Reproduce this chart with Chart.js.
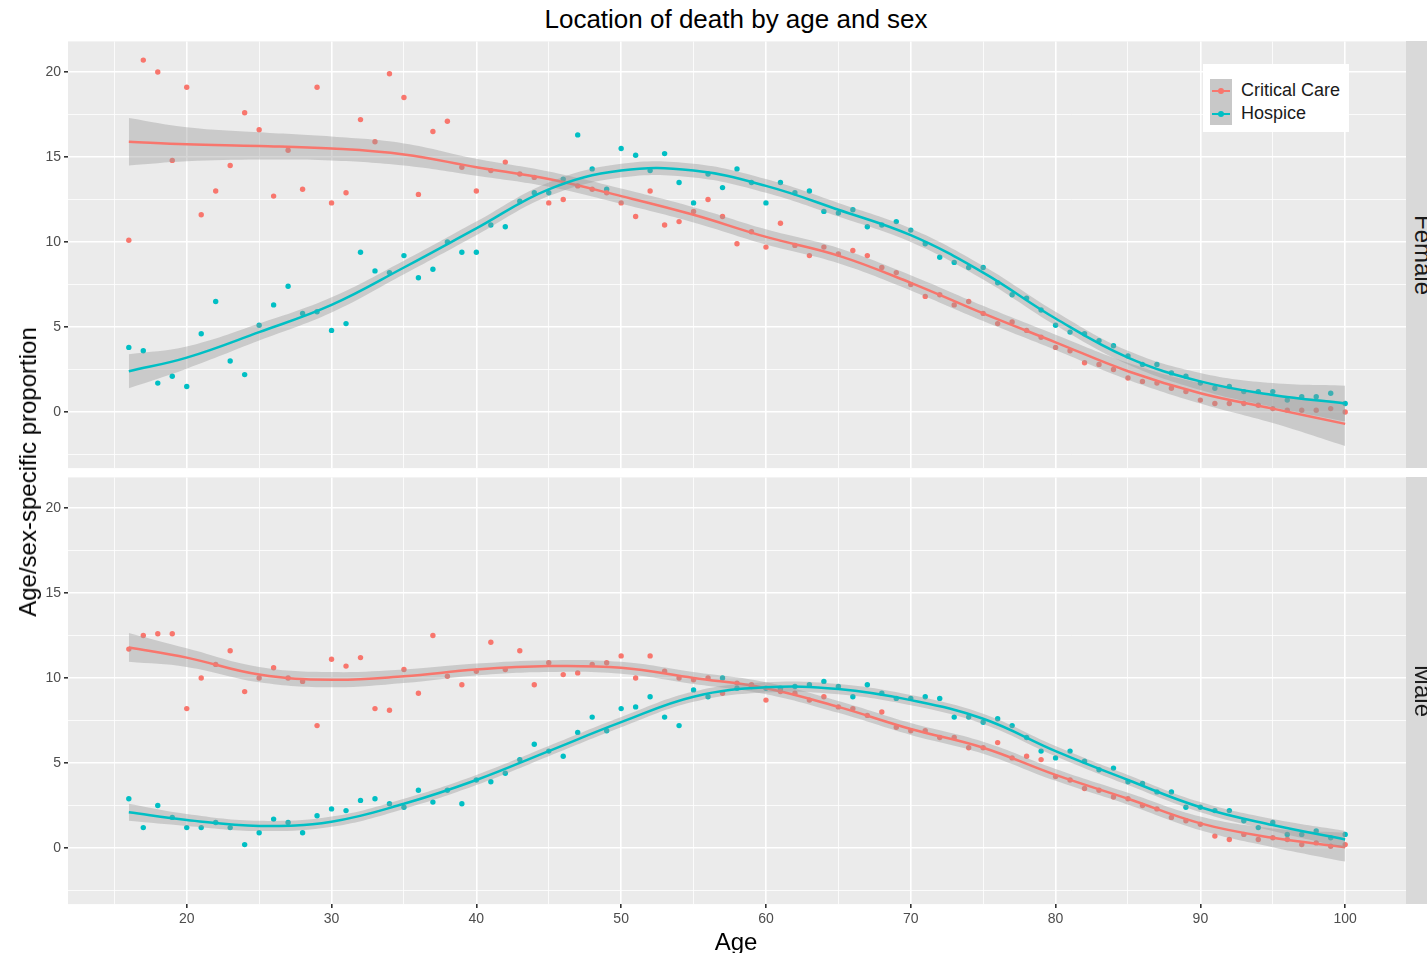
<!DOCTYPE html>
<html>
<head>
<meta charset="utf-8">
<script src="https://cdn.jsdelivr.net/npm/chart.js@4.4.0/dist/chart.umd.min.js"></script>
<style>
  body { margin: 0; width: 1427px; height: 953px; overflow: hidden; background: #fff; position: relative;
         font-family: "Liberation Sans", Arial, sans-serif; }
  canvas { position: absolute; left: 0; }
  .txt { position: absolute; white-space: nowrap; color: #000; }
  .strip { position: absolute; left: 1406px; width: 34px; background: #d9d9d9; overflow: hidden; }
  .strip span { position: absolute; left: 50%; top: 50%; transform: translate(-50%, -50%) rotate(90deg);
                font-size: 24px; color: #1a1a1a; white-space: nowrap; }
  #legend { position: absolute; left: 1203px; top: 64px; width: 146px; height: 68px; background: #fff; }
  .key { position: absolute; left: 7px; width: 22px; height: 23px; background: #c8c8c8; }
  .key i { position: absolute; left: 2px; top: 10.5px; width: 18px; height: 2px; }
  .key b { position: absolute; left: 8px; top: 8.5px; width: 6px; height: 6px; border-radius: 50%; }
  .lab { position: absolute; left: 38px; font-size: 18px; color: #1a1a1a; line-height: 23px; }
</style>
</head>
<body>
<div class="txt" style="left:736px;top:19px;transform:translate(-50%,-50%);font-size:26px;">Location of death by age and sex</div>
<canvas id="female" width="1410" height="450" style="top:30px"></canvas>
<canvas id="male" width="1410" height="488" style="top:465px"></canvas>
<div class="strip" style="top:41px;height:427px"><span>Female</span></div>
<div class="strip" style="top:477px;height:427px"><span>Male</span></div>
<div class="txt" style="left:28px;top:472px;transform:translate(-50%,-50%) rotate(-90deg);font-size:24px;">Age/sex-specific proportion</div>
<div class="txt" style="left:736px;top:942px;transform:translate(-50%,-50%);font-size:24px;">Age</div>
<div id="legend">
  <div class="key" style="top:15px"><i style="background:#F8766D"></i><b style="background:#F8766D"></b></div>
  <div class="key" style="top:38px"><i style="background:#00BFC4"></i><b style="background:#00BFC4"></b></div>
  <div class="lab" style="top:15px">Critical Care</div>
  <div class="lab" style="top:38px">Hospice</div>
</div>
<script>
/*==========================================================

DATOS

==========================================================*/

var ages = [16, 17, 18, 19, 20, 21, 22, 23, 24, 25, 26, 27, 28, 29, 30, 31, 32, 33, 34, 35, 36, 37, 38, 39,
  40, 41, 42, 43, 44, 45, 46, 47, 48, 49, 50, 51, 52, 53, 54, 55, 56, 57, 58, 59, 60, 61, 62, 63, 64, 65,
  66, 67, 68, 69, 70, 71, 72, 73, 74, 75, 76, 77, 78, 79, 80, 81, 82, 83, 84, 85, 86, 87, 88, 89, 90, 91,
  92, 93, 94, 95, 96, 97, 98, 99, 100];

// observed proportions, one value per age
var femaleCritical = [10.1, 20.7, 20.0, 14.8, 19.1, 11.6, 13.0, 14.5, 17.6, 16.6, 12.7, 15.4, 13.1, 19.1,
  12.3, 12.9, 17.2, 15.9, 19.9, 18.5, 12.8, 16.5, 17.1, 14.4, 13.0, 14.2, 14.7, 14.0, 13.8, 12.3, 12.5,
  13.3, 13.1, 12.9, 12.3, 11.5, 13.0, 11.0, 11.2, 11.8, 12.5, 11.5, 9.9, 10.6, 9.7, 11.1, 9.8, 9.2, 9.7,
  9.3, 9.5, 9.2, 8.5, 8.2, 7.5, 6.8, 6.9, 6.3, 6.5, 5.8, 5.2, 5.3, 4.8, 4.4, 3.8, 3.6, 2.9, 2.8, 2.5,
  2.0, 1.8, 1.7, 1.4, 1.2, 0.7, 0.5, 0.5, 0.5, 0.4, 0.2, 0.1, 0.1, 0.1, 0.2, 0.0];
var femaleHospice = [3.8, 3.6, 1.7, 2.1, 1.5, 4.6, 6.5, 3.0, 2.2, 5.1, 6.3, 7.4, 5.8, 5.9, 4.8, 5.2, 9.4,
  8.3, 8.2, 9.2, 7.9, 8.4, 10.0, 9.4, 9.4, 11.0, 10.9, 12.4, 12.9, 12.9, 13.7, 16.3, 14.3, 13.1, 15.5,
  15.1, 14.2, 15.2, 13.5, 12.3, 14.0, 13.2, 14.3, 13.5, 12.3, 13.5, 12.9, 13.0, 11.8, 11.7, 11.9, 10.9,
  11.0, 11.2, 10.7, 9.9, 9.1, 8.8, 8.5, 8.5, 7.6, 6.9, 6.7, 6.0, 5.1, 4.7, 4.6, 4.2, 3.9, 3.3, 2.8, 2.8,
  2.3, 2.1, 1.7, 1.4, 1.5, 1.2, 1.2, 1.2, 0.7, 0.9, 0.9, 1.1, 0.5];
var maleCritical = [11.7, 12.5, 12.6, 12.6, 8.2, 10.0, 10.8, 11.6, 9.2, 10.0, 10.6, 10.0, 9.8, 7.2, 11.1,
  10.7, 11.2, 8.2, 8.1, 10.5, 9.1, 12.5, 10.1, 9.6, 10.4, 12.1, 10.5, 11.6, 9.6, 10.9, 10.2, 10.3, 10.8,
  10.9, 11.3, 10.0, 11.3, 10.4, 10.0, 9.9, 10.0, 9.1, 9.7, 9.6, 8.7, 9.2, 9.1, 8.7, 8.9, 8.3, 8.2, 7.8,
  8.0, 7.1, 6.9, 6.9, 6.5, 6.5, 5.9, 5.9, 6.2, 5.3, 5.4, 5.2, 4.2, 4.0, 3.5, 3.4, 3.0, 2.9, 2.5, 2.3,
  1.8, 1.6, 1.4, 0.7, 0.5, 0.8, 0.5, 0.6, 0.5, 0.2, 0.3, 0.1, 0.2];
var maleHospice = [2.9, 1.2, 2.5, 1.8, 1.2, 1.2, 1.5, 1.2, 0.2, 0.9, 1.7, 1.5, 0.9, 1.9, 2.3, 2.2, 2.8,
  2.9, 2.6, 2.4, 3.4, 2.7, 3.4, 2.6, 4.0, 3.9, 4.4, 5.2, 6.1, 5.7, 5.4, 6.8, 7.7, 6.9, 8.2, 8.3, 8.9,
  7.7, 7.2, 9.3, 8.9, 10.0, 9.4, 9.5, 9.4, 9.4, 9.5, 9.6, 9.8, 9.5, 8.9, 9.6, 9.1, 8.8, 8.8, 8.9, 8.8,
  7.7, 7.7, 7.4, 7.6, 7.2, 6.5, 5.7, 5.3, 5.7, 5.1, 4.6, 4.7, 3.9, 3.8, 3.3, 3.3, 2.4, 2.4, 2.2, 2.2,
  1.6, 1.2, 1.5, 0.8, 0.8, 1.0, 0.6, 0.8];

// smoothed curves and their confidence bands, read at these ages
var fitAges = [16, 20, 25, 30, 35, 40, 45, 50, 55, 60, 65, 70, 75, 80, 85, 90, 95, 100];
var femaleCriticalFit = [15.9, 15.75, 15.65, 15.5, 15.15, 14.4, 13.7, 12.7, 11.6, 10.3, 9.2, 7.6, 5.8, 4.1, 2.4, 1.1, 0.2, -0.7];
var femaleCriticalHi = [17.3, 16.75, 16.45, 16.2, 15.8, 14.9, 14.15, 13.15, 12.05, 10.75, 9.65, 8.05, 6.25, 4.55, 2.9, 1.7, 1.05, 0.6];
var femaleCriticalLo = [14.5, 14.75, 14.85, 14.8, 14.5, 13.9, 13.25, 12.25, 11.15, 9.85, 8.75, 7.15, 5.35, 3.65, 1.9, 0.5, -0.65, -2.0];
var femaleHospiceFit = [2.4, 3.2, 4.7, 6.3, 8.5, 10.8, 13.1, 14.2, 14.2, 13.3, 11.9, 10.4, 8.2, 5.5, 3.2, 1.8, 1.0, 0.5];
var femaleHospiceHi = [3.4, 3.85, 5.2, 6.75, 8.9, 11.2, 13.5, 14.6, 14.6, 13.7, 12.3, 10.8, 8.6, 5.9, 3.6, 2.3, 1.7, 1.55];
var femaleHospiceLo = [1.4, 2.55, 4.2, 5.85, 8.1, 10.4, 12.7, 13.8, 13.8, 12.9, 11.5, 10.0, 7.8, 5.1, 2.8, 1.3, 0.3, -0.55];
var maleCriticalFit = [11.8, 11.2, 10.2, 9.9, 10.1, 10.5, 10.7, 10.6, 10.0, 9.4, 8.3, 7.0, 5.9, 4.3, 2.9, 1.45, 0.6, 0.05];
var maleCriticalHi = [12.65, 11.75, 10.65, 10.35, 10.5, 10.85, 11.05, 10.95, 10.35, 9.75, 8.65, 7.35, 6.25, 4.65, 3.25, 1.85, 1.15, 0.9];
var maleCriticalLo = [10.95, 10.65, 9.75, 9.45, 9.7, 10.15, 10.35, 10.25, 9.65, 9.05, 7.95, 6.65, 5.55, 3.95, 2.55, 1.05, 0.05, -0.8];
var maleHospiceFit = [2.1, 1.65, 1.3, 1.55, 2.6, 4.0, 5.7, 7.4, 8.9, 9.45, 9.35, 8.7, 7.6, 5.7, 4.0, 2.4, 1.35, 0.5];
var maleHospiceHi = [2.6, 2.0, 1.6, 1.85, 2.9, 4.3, 6.0, 7.7, 9.2, 9.75, 9.65, 9.0, 7.9, 6.0, 4.3, 2.7, 1.7, 1.0];
var maleHospiceLo = [1.6, 1.3, 1.0, 1.25, 2.3, 3.7, 5.4, 7.1, 8.6, 9.15, 9.05, 8.4, 7.3, 5.4, 3.7, 2.1, 1.0, 0.0];

var xTicks = [15, 20, 25, 30, 35, 40, 45, 50, 55, 60, 65, 70, 75, 80, 85, 90, 95, 100];
var yTicks = [-2.5, 0, 2.5, 5, 7.5, 10, 12.5, 15, 17.5, 20];

/*==========================================================

GRAFICOS

==========================================================*/

var RED = "#F8766D";
var TEAL = "#00BFC4";
var BAND = "rgba(153, 153, 153, 0.4)";
var TICK_FONT = { family: "Liberation Sans", size: 14 };

// fondo gris del panel, como en ggplot
var panelBg = {
  id: "panelBg",
  beforeDraw: function (chart) {
    var a = chart.chartArea;
    chart.ctx.save();
    chart.ctx.fillStyle = "#ebebeb";
    chart.ctx.fillRect(a.left, a.top, a.right - a.left, a.bottom - a.top);
    chart.ctx.restore();
  },
};

function toPoints(xs, ys) {
  return xs.map(function (x, i) {
    return { x: x, y: ys[i] };
  });
}

function curve(ys, color, order) {
  return {
    data: toPoints(fitAges, ys),
    showLine: true,
    borderColor: color,
    borderWidth: 2.5,
    pointRadius: 0,
    tension: 0.4,
    fill: false,
    order: order,
  };
}

function band(hi, lo, order) {
  return [
    {
      data: toPoints(fitAges, hi),
      showLine: true,
      borderWidth: 0,
      borderColor: "rgba(0,0,0,0)",
      backgroundColor: BAND,
      pointRadius: 0,
      tension: 0.4,
      fill: "+1",
      order: order,
    },
    {
      data: toPoints(fitAges, lo),
      showLine: true,
      borderWidth: 0,
      borderColor: "rgba(0,0,0,0)",
      pointRadius: 0,
      tension: 0.4,
      fill: false,
      order: order,
    },
  ];
}

function dots(ys, color) {
  return {
    data: toPoints(ages, ys),
    backgroundColor: color,
    borderWidth: 0,
    pointRadius: 2.7,
    order: 10,
  };
}

function isMajor(v, step) {
  return Math.abs(v % step) < 1e-9;
}

function makePanel(id, crit, hosp, fits, showX, pad) {
  var datasets = [dots(crit, RED), dots(hosp, TEAL)]
    .concat(band(fits.critHi, fits.critLo, 4))
    .concat([curve(fits.crit, RED, 3)])
    .concat(band(fits.hospHi, fits.hospLo, 2))
    .concat([curve(fits.hosp, TEAL, 1)]);

  new Chart(document.getElementById(id), {
    type: "scatter",
    data: { datasets: datasets },
    plugins: [panelBg],
    options: {
      responsive: false,
      animation: false,
      events: [],
      layout: { padding: pad },
      plugins: { legend: { display: false }, tooltip: { enabled: false } },
      scales: {
        x: {
          type: "linear",
          min: 11.8,
          max: 104.2,
          afterBuildTicks: function (s) {
            s.ticks = xTicks.map(function (v) { return { value: v }; });
          },
          afterFit: function (s) {
            s.height = showX ? 30 : 0;
          },
          border: { display: false },
          grid: {
            color: "#ffffff",
            lineWidth: function (c) { return c.tick && isMajor(c.tick.value, 10) ? 1.6 : 0.8; },
            drawTicks: showX,
            tickLength: 4,
            tickColor: function (c) { return c.tick && isMajor(c.tick.value, 10) ? "#333333" : "rgba(0,0,0,0)"; },
          },
          ticks: {
            display: showX,
            autoSkip: false,
            maxRotation: 0,
            padding: 3,
            color: "#4d4d4d",
            font: TICK_FONT,
            callback: function (v) { return isMajor(v, 10) ? String(v) : ""; },
          },
        },
        y: {
          type: "linear",
          min: -3.3,
          max: 21.8,
          afterBuildTicks: function (s) {
            s.ticks = yTicks.map(function (v) { return { value: v }; });
          },
          afterFit: function (s) {
            s.width = 68;
          },
          border: { display: false },
          grid: {
            color: "#ffffff",
            lineWidth: function (c) { return c.tick && isMajor(c.tick.value, 5) ? 1.6 : 0.8; },
            tickLength: 4,
            tickColor: function (c) { return c.tick && isMajor(c.tick.value, 5) ? "#333333" : "rgba(0,0,0,0)"; },
          },
          ticks: {
            autoSkip: false,
            padding: 3,
            color: "#4d4d4d",
            font: TICK_FONT,
            callback: function (v) { return isMajor(v, 5) ? String(v) : ""; },
          },
        },
      },
    },
  });
}

makePanel("female", femaleCritical, femaleHospice, {
  crit: femaleCriticalFit, critHi: femaleCriticalHi, critLo: femaleCriticalLo,
  hosp: femaleHospiceFit, hospHi: femaleHospiceHi, hospLo: femaleHospiceLo,
}, false, { top: 11.4, bottom: 11.9, left: 0, right: 0 });

makePanel("male", maleCritical, maleHospice, {
  crit: maleCriticalFit, critHi: maleCriticalHi, critLo: maleCriticalLo,
  hosp: maleHospiceFit, hospHi: maleHospiceHi, hospLo: maleHospiceLo,
}, true, { top: 12.4, bottom: 18.9, left: 0, right: 0 });
</script>
</body>
</html>
